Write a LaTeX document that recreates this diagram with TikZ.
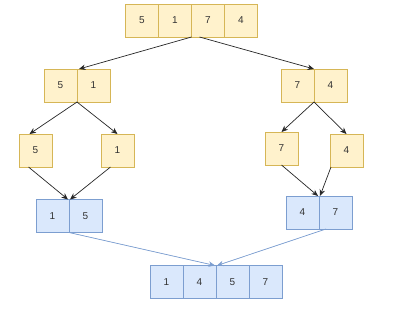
\documentclass[tikz,border=0pt]{standalone}
\usepackage{fontspec}
\setmainfont{Liberation Sans}
\usetikzlibrary{positioning,arrows.meta}
\definecolor{yfill}{HTML}{FFF2CC}
\definecolor{ydraw}{HTML}{D6B656}
\definecolor{bfill}{HTML}{DAE8FC}
\definecolor{bdraw}{HTML}{7C9ED0}
\definecolor{ink}{HTML}{333333}

\tikzset{
  cell/.style={draw,line width=1pt,minimum width=33pt,minimum height=33pt,
    inner sep=0pt,outer sep=0pt,font=\fontsize{10}{12}\selectfont,text=ink},
  ycell/.style={cell,fill=yfill,draw=ydraw},
  bcell/.style={cell,fill=bfill,draw=bdraw},
  split/.style={-{Stealth[length=6.5pt,width=5.5pt]},line width=0.7pt,draw=black!85},
  merge/.style={-{Stealth[length=6.5pt,width=5.5pt]},line width=0.7pt,draw=bdraw,fill=bdraw}
}

\begin{document}
\begin{tikzpicture}[x=1pt,y=-1pt]
  \useasboundingbox (0,0) rectangle (412,324);

  % whole array
  \node[ycell] (t1) at (142,20.5) {5};
  \node[ycell,right=0pt of t1] (t2) {1};
  \node[ycell,right=0pt of t2] (t3) {7};
  \node[ycell,right=0pt of t3] (t4) {4};

  % halves
  \node[ycell] (l1) at (60.5,85.5) {5};
  \node[ycell,right=0pt of l1] (l2) {1};
  \node[ycell] (r1) at (297.5,85.5) {7};
  \node[ycell,right=0pt of r1] (r2) {4};

  % single elements
  \node[ycell] (sa) at (35.5,150.5) {5};
  \node[ycell] (sb) at (117.5,150.5) {1};
  \node[ycell] (sc) at (281.5,148.5) {7};
  \node[ycell] (sd) at (346.5,150.5) {4};

  % merged halves
  \node[bcell] (ml1) at (52.5,216) {1};
  \node[bcell,right=0pt of ml1] (ml2) {5};
  \node[bcell] (mr1) at (302.5,212.5) {4};
  \node[bcell,right=0pt of mr1] (mr2) {7};

  % sorted array
  \node[bcell] (f1) at (166.5,282) {1};
  \node[bcell,right=0pt of f1] (f2) {4};
  \node[bcell,right=0pt of f2] (f3) {5};
  \node[bcell,right=0pt of f3] (f4) {7};

  % splitting
  \draw[split] (t2.south east) -- ([xshift=2pt]l1.north east);
  \draw[split] ([xshift=8pt]t3.south west) -- (r1.north east);
  \draw[split] (l1.south east) -- ([xshift=-6pt]sa.north);
  \draw[split] (l1.south east) -- (sb.north);
  \draw[split] (r1.south east) -- (sc.north);
  \draw[split] (r1.south east) -- (sd.north);

  % merging
  \draw[split] ([xshift=-7pt]sa.south) -- ([xshift=-1pt]ml1.north east);
  \draw[split] ([xshift=-7pt]sb.south) -- ([xshift=1pt]ml1.north east);
  \draw[split] (sc.south) -- ([xshift=-1pt]mr1.north east);
  \draw[split] ([xshift=1pt]sd.south west) -- ([xshift=1pt]mr1.north east);
  \draw[merge] (ml1.south east) -- ([xshift=-1pt]f2.north east);
  \draw[merge] ([xshift=7pt]mr1.south east) -- ([xshift=1pt]f2.north east);
\end{tikzpicture}
\end{document}
